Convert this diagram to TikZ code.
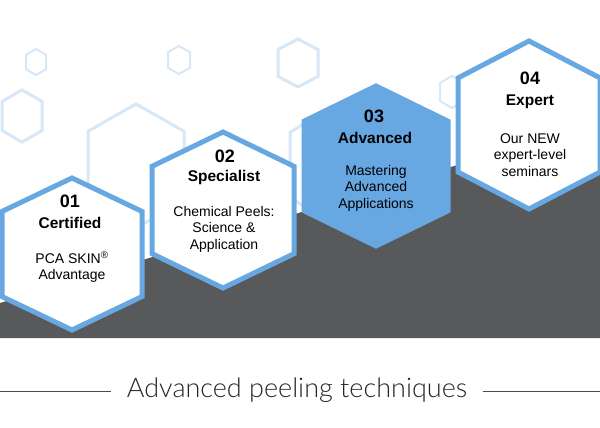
\documentclass[tikz,border=0pt]{standalone}
\usepackage{fontspec}
\setmainfont{Liberation Sans}
\newfontfamily\thinfont{Lato}[UprightFont=* Light]
\usetikzlibrary{positioning}
\definecolor{hexblue}{HTML}{68A8E2}
\definecolor{hexpale}{HTML}{D6E7F7}
\definecolor{slate}{HTML}{58595B}

% pointy hexagon: centre x, centre y, half width, half height
\newcommand\hexpath[4]{(#1,#2-#4) -- (#1+#3,#2-#4*0.56) -- (#1+#3,#2+#4*0.56)
  -- (#1,#2+#4) -- (#1-#3,#2+#4*0.56) -- (#1-#3,#2-#4*0.56) -- cycle}

\begin{document}
\begin{tikzpicture}[x=1pt,y=-1pt,
    pale/.style={draw=hexpale,line width=3pt,line join=miter},
    step hex/.style={draw=hexblue,line width=5pt,line join=miter,fill=white},
    num/.style={font=\bfseries\fontsize{18}{19}\selectfont},
    level/.style={font=\bfseries\fontsize{15.5}{17}\selectfont},
    desc/.style={font=\fontsize{14}{16.5}\selectfont,align=center}]
  \useasboundingbox (0,0) rectangle (600,428);

  % background honeycomb
  \draw[pale,line width=2pt] \hexpath{36}{62}{10}{13};
  \draw[pale,line width=2pt] \hexpath{179}{60}{11}{14};
  \draw[pale] \hexpath{298}{63}{20}{24};
  \draw[pale] \hexpath{22}{116}{20}{26};
  \draw[pale] \hexpath{136}{166}{48}{62};
  \draw[pale] \hexpath{330}{165}{40}{58};
  \draw[pale,line width=2pt] \hexpath{452}{92}{12}{16};

  % grey slope
  \fill[slate] (0,303) -- (600,122) -- (600,338) -- (0,338) -- cycle;

  % step hexagons
  \draw[step hex] \hexpath{72}{254}{70}{76};
  \draw[step hex] \hexpath{223}{210}{71}{78};
  \draw[step hex,fill=hexblue] \hexpath{376}{166}{72}{80};
  \draw[step hex] \hexpath{529}{125}{71}{84};

  \node[num] (n1) at (70,201) {01};
  \node[level] (l1) at (70,223) {Certified};
  \node[desc] (d1) at (72,267) {PCA SKIN\textsuperscript{\textregistered}\\Advantage};

  \node[num] (n2) at (225,156) {02};
  \node[level] (l2) at (224,177) {Specialist};
  \node[desc] (d2) at (224,229) {Chemical Peels:\\Science \&\\Application};

  \node[num] (n3) at (374,116) {03};
  \node[level] (l3) at (375,138) {Advanced};
  \node[desc] (d3) at (376,188) {Mastering\\Advanced\\Applications};

  \node[num] (n4) at (530,78) {04};
  \node[level] (l4) at (530,102) {Expert};
  \node[desc] (d4) at (530,155) {Our NEW\\expert-level\\seminars};

  % caption
  \node[font=\thinfont\fontsize{27}{29}\selectfont,text=black!85] (cap) at (297,390)
    {Advanced peeling techniques};
  \coordinate (capl) at (0,391);
  \coordinate (capr) at (600,391);
  \draw[black!70,line width=0.8pt] (capl) -- ([xshift=-12pt]cap.west |- capl);
  \draw[black!70,line width=0.8pt] ([xshift=12pt]cap.east |- capr) -- (capr);
\end{tikzpicture}
\end{document}
